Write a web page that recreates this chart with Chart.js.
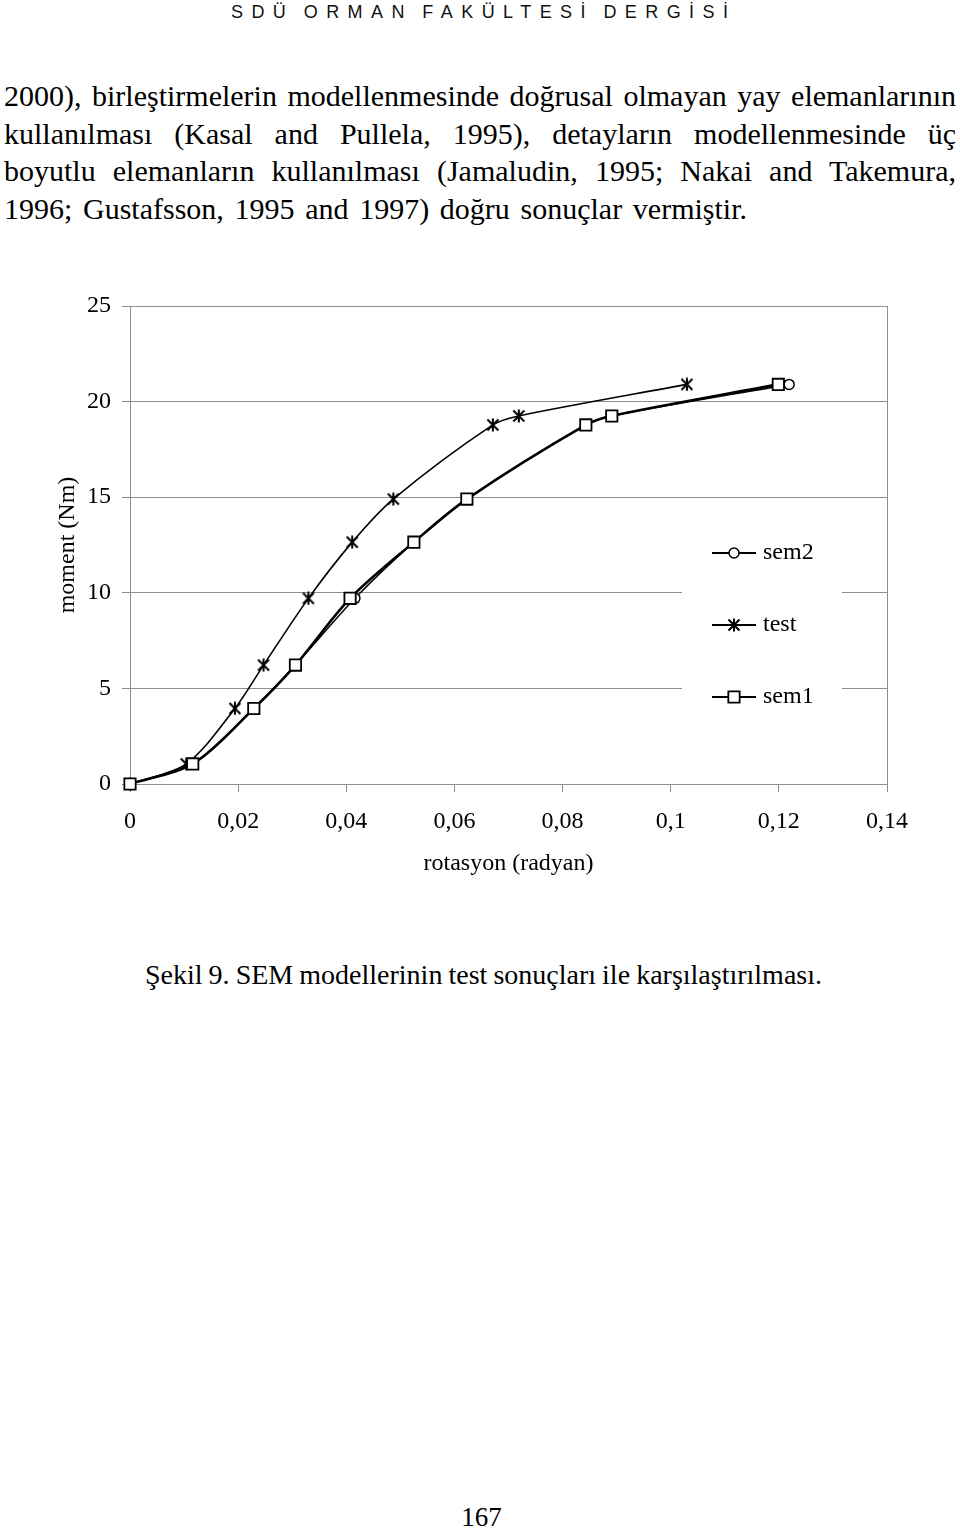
<!DOCTYPE html>
<html lang="tr">
<head>
<meta charset="utf-8">
<title>Şekil 9. SEM modellerinin test sonuçları ile karşılaştırılması</title>
<script src="https://cdn.jsdelivr.net/npm/chart.js@4.4.1/dist/chart.umd.min.js"></script>
<style>
    html, body { margin: 0; padding: 0; background: #fff; }
    body {
        width: 960px; height: 1531px; position: relative; overflow: hidden;
        font-family: "Liberation Serif", "Times New Roman", serif; color: #000;
    }
    .satir { position: absolute; white-space: nowrap; }
    #dergi {
        left: 231px; top: 2px; color: #111; word-spacing: -4px;
        font: 18px/20px "Liberation Sans", Arial, sans-serif;
    }
    .metin { left: 4px; font-size: 30px; line-height: 37.5px; }
    #sekil-adi { left: 145px; top: 961px; font-size: 28px; line-height: 28px; }
    #sayfa { left: 0; width: 963px; text-align: center; top: 1504px; font-size: 27px; line-height: 27px; }
    #grafik { position: absolute; left: 0; top: 280px; }
</style>
</head>
<body>

<div id="dergi" class="satir">SDÜ ORMAN FAKÜLTESİ DERGİSİ</div>

<div class="satir metin" style="top:77px" data-genislik="952">2000), birleştirmelerin modellenmesinde doğrusal olmayan yay elemanlarının</div>
<div class="satir metin" style="top:114.5px" data-genislik="952">kullanılması (Kasal and Pullela, 1995), detayların modellenmesinde üç</div>
<div class="satir metin" style="top:152px" data-genislik="952">boyutlu elemanların kullanılması (Jamaludin, 1995; Nakai and Takemura,</div>
<div class="satir metin" style="top:189.5px" data-genislik="743">1996; Gustafsson, 1995 and 1997) doğru sonuçlar vermiştir.</div>

<canvas id="grafik" width="960" height="620"></canvas>

<div id="sekil-adi" class="satir" data-genislik="677">Şekil 9. SEM modellerinin test sonuçları ile karşılaştırılması.</div>
<div id="sayfa" class="satir">167</div>

<script>
    // degerler (rotasyon radyan, moment Nm)
    var momentDuzeyleri = [0, 1.05, 3.95, 6.22, 9.71, 12.65, 14.9, 18.78, 19.25, 20.9];
    var rotasyonSem1 = [0, 0.0116, 0.0229, 0.0306, 0.0407, 0.0525, 0.0623, 0.0843, 0.0891, 0.1199];
    var rotasyonSem2 = [0, 0.0116, 0.0229, 0.0306, 0.0416, 0.0525, 0.0623, 0.0843, 0.0891, 0.1219];
    var rotasyonTest = [0, 0.0104, 0.0194, 0.0247, 0.0330, 0.0411, 0.0487, 0.0671, 0.0719, 0.1030];
    var seriAdlari = ["sem2", "test", "sem1"];
    var xTikler = [0, 0.02, 0.04, 0.06, 0.08, 0.1, 0.12, 0.14];
    var yTikler = [0, 5, 10, 15, 20, 25];

    var GRI = "#8e8e8e";

    /** Satiri hedef genislige yayar (kelime araligi ya da harf araligi ile). */
    function satiriYay(el, hedef, harfle) {
        var dogal = el.getBoundingClientRect().width;
        if (harfle) {
            var n = el.textContent.length - 1;
            el.style.letterSpacing = ((hedef - dogal) / n) + "px";
        } else {
            var bosluk = (el.textContent.match(/ /g) || []).length;
            if (bosluk) { el.style.wordSpacing = ((hedef - dogal) / bosluk) + "px"; }
        }
    }

    document.querySelectorAll("[data-genislik]").forEach(function (el) {
        satiriYay(el, parseFloat(el.getAttribute("data-genislik")), false);
    });
    satiriYay(document.getElementById("dergi"), 497, true);

    function noktalar(xs, ys) {
        return xs.map(function (x, i) { return { x: x, y: ys[i] }; });
    }

    /** Excel'deki yildiz isareti: dikey cizgi + X. */
    function yildizIsareti() {
        var c = document.createElement("canvas");
        c.width = 14; c.height = 14;
        var g = c.getContext("2d");
        g.strokeStyle = "#000";
        g.lineWidth = 2;
        g.beginPath();
        g.moveTo(7, 0.5); g.lineTo(7, 13.5);
        g.moveTo(1.5, 1.5); g.lineTo(12.5, 12.5);
        g.moveTo(12.5, 1.5); g.lineTo(1.5, 12.5);
        g.stroke();
        return c;
    }
    var yildiz = yildizIsareti();

    function isaretCiz(ctx, ds, x, y) {
        var stil = ds.pointStyle, r = ds.pointRadius;
        if (stil instanceof HTMLCanvasElement) {
            ctx.drawImage(stil, x - stil.width / 2, y - stil.height / 2);
            return;
        }
        ctx.beginPath();
        if (stil === "rect") {
            var s = r * Math.SQRT1_2;
            ctx.rect(x - s, y - s, 2 * s, 2 * s);
        } else {
            ctx.arc(x, y, r, 0, Math.PI * 2);
        }
        ctx.fillStyle = ds.pointBackgroundColor;
        ctx.fill();
        ctx.lineWidth = ds.pointBorderWidth;
        ctx.strokeStyle = ds.pointBorderColor;
        ctx.stroke();
    }

    // sag cerceve cizgisi ve grafik icindeki lejant
    var cerceveVeLejant = {
        id: "cerceveVeLejant",
        beforeDatasetsDraw: function (chart) {
            var ctx = chart.ctx, a = chart.chartArea;
            ctx.save();
            ctx.strokeStyle = GRI;
            ctx.lineWidth = 1;
            ctx.beginPath();
            ctx.moveTo(Math.round(a.right) + 0.5, a.top);
            ctx.lineTo(Math.round(a.right) + 0.5, a.bottom);
            ctx.stroke();

            var kutuX = a.left + 552, kutuY = a.top + 209;
            ctx.fillStyle = "#fff";
            ctx.fillRect(kutuX, kutuY, 160, 220);

            seriAdlari.forEach(function (ad, i) {
                var ds = chart.data.datasets.filter(function (d) { return d.label === ad; })[0];
                var y = a.top + 247 + i * 72;
                var x0 = a.left + 582;
                ctx.strokeStyle = "#000";
                ctx.lineWidth = 2;
                ctx.beginPath();
                ctx.moveTo(x0, y);
                ctx.lineTo(x0 + 44, y);
                ctx.stroke();
                isaretCiz(ctx, ds, x0 + 22, y);
                ctx.fillStyle = "#000";
                ctx.font = '24px "Liberation Serif", "Times New Roman", serif';
                ctx.textAlign = "left";
                ctx.textBaseline = "middle";
                ctx.fillText(ad, x0 + 51, y);
            });
            ctx.restore();
        }
    };

    Chart.defaults.font.family = '"Liberation Serif", "Times New Roman", serif';
    Chart.defaults.font.size = 24;
    Chart.defaults.font.lineHeight = 1.2;
    Chart.defaults.color = "#000";

    function virgullu(v) {
        return String(Number(Number(v).toFixed(2))).replace(".", ",");
    }

    new Chart(document.getElementById("grafik").getContext("2d"), {
        type: "line",
        data: {
            datasets: [{
                label: "sem2",
                data: noktalar(rotasyonSem2, momentDuzeyleri),
                borderColor: "#000",
                borderWidth: 1.5,
                pointStyle: "circle",
                pointRadius: 5,
                pointBorderWidth: 1.5,
                pointBorderColor: "#000",
                pointBackgroundColor: "#fff",
                tension: 0.3,
                clip: false,
                order: 3
            }, {
                label: "test",
                data: noktalar(rotasyonTest, momentDuzeyleri),
                borderColor: "#000",
                borderWidth: 1.6,
                pointStyle: yildiz,
                pointRadius: 6,
                pointBorderColor: "#000",
                pointBackgroundColor: "#000",
                tension: 0.3,
                clip: false,
                order: 2
            }, {
                label: "sem1",
                data: noktalar(rotasyonSem1, momentDuzeyleri),
                borderColor: "#000",
                borderWidth: 2.6,
                pointStyle: "rect",
                pointRadius: 8,
                pointBorderWidth: 1.8,
                pointBorderColor: "#000",
                pointBackgroundColor: "#fff",
                tension: 0.3,
                clip: false,
                order: 1
            }]
        },
        options: {
            responsive: false,
            animation: false,
            devicePixelRatio: 1,
            layout: { padding: { top: 26, right: 73, left: 0, bottom: 0 } },
            plugins: { legend: { display: false }, tooltip: { enabled: false } },
            elements: { point: { hoverRadius: 0 } },
            scales: {
                x: {
                    type: "linear",
                    min: 0,
                    max: 0.14,
                    afterBuildTicks: function (s) { s.ticks = xTikler.map(function (v) { return { value: v }; }); },
                    afterFit: function (s) { s.height = 116; },
                    ticks: { padding: 15, maxRotation: 0, autoSkip: false, callback: virgullu },
                    grid: { drawOnChartArea: false, drawTicks: true, tickLength: 8, color: GRI },
                    border: { display: true, color: GRI },
                    title: { display: true, text: "rotasyon (radyan)", padding: { top: 0, bottom: 22 } }
                },
                y: {
                    min: 0,
                    max: 25,
                    afterBuildTicks: function (s) { s.ticks = yTikler.map(function (v) { return { value: v }; }); },
                    afterFit: function (s) { s.width = 130; },
                    ticks: { padding: 11 },
                    grid: { color: GRI, tickLength: 8 },
                    border: { display: true, color: GRI },
                    title: { display: true, text: "moment (Nm)", padding: { top: 53, bottom: 0 } }
                }
            }
        },
        plugins: [cerceveVeLejant]
    });
</script>
</body>
</html>
